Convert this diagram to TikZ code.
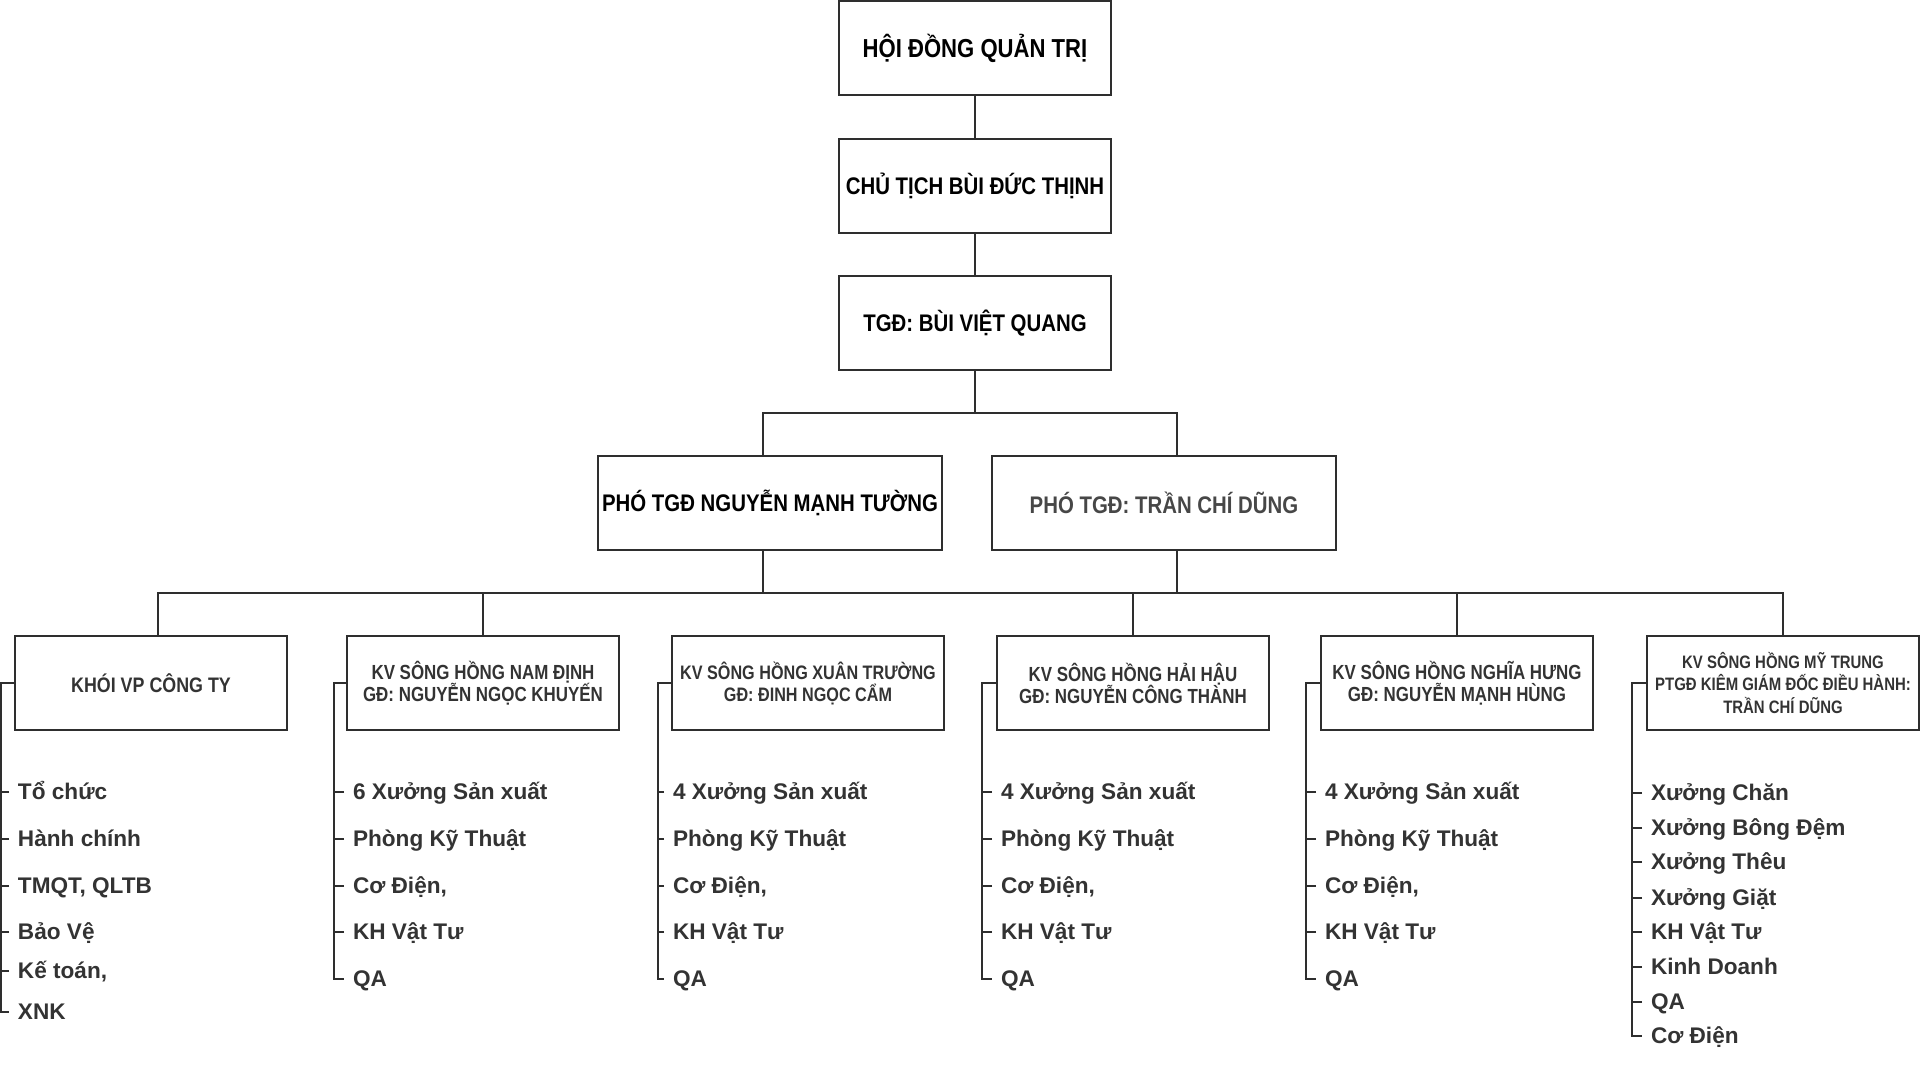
\documentclass[tikz,border=0pt]{standalone}
\usepackage{fontspec}
\setmainfont{Liberation Sans}
\newfontfamily\narrowsans[FakeStretch=0.85]{Liberation Sans}
\newfontfamily\narrowersans[FakeStretch=0.83]{Liberation Sans}
\definecolor{linegray}{HTML}{2E2E2E}
\definecolor{textgray}{HTML}{333333}

\begin{document}
\begin{tikzpicture}[x=0.5pt,y=-0.5pt,line width=1pt,draw=linegray,
    topbox/.style={draw=linegray,minimum width=136pt,minimum height=47pt,inner sep=0pt,align=center,
        font=\narrowsans\bfseries\fontsize{12}{14}\selectfont},
    phobox/.style={topbox,minimum width=172pt},
    kvbox/.style={draw=linegray,minimum width=136pt,minimum height=47pt,inner sep=0pt,align=center,
        text=textgray,font=\narrowersans\bfseries\fontsize{10.2}{11}\selectfont},
    item/.style={anchor=west,inner xsep=4pt,inner ysep=0pt,text height=7.9pt,text depth=0pt,
        text=textgray,font=\bfseries\fontsize{11.3}{13}\selectfont}]
    \useasboundingbox (0,0) rectangle (1920,1077);
    \node[topbox,font=\narrowsans\bfseries\fontsize{13}{15}\selectfont] (hdqt) at (975,48) {HỘI ĐỒNG QUẢN TRỊ};
    \node[topbox] (chutich) at (975,185.5) {CHỦ TỊCH BÙI ĐỨC THỊNH};
    \node[topbox] (tgd) at (975,323) {TGĐ: BÙI VIỆT QUANG};
    \node[phobox] (pho1) at (770,503) {PHÓ TGĐ NGUYỄN MẠNH TƯỜNG};
    \node[phobox,text=black!72] (pho2) at (1164,503) {PHÓ TGĐ: TRẦN CHÍ DŨNG};
    \node[kvbox,font=\narrowsans\bfseries\fontsize{10.5}{12}\selectfont] (khoi) at (151,683) {KHÓI VP CÔNG TY};
    \node[kvbox] (namdinh) at (483,683) {KV SÔNG HỒNG NAM ĐỊNH\\GĐ: NGUYỄN NGỌC KHUYẾN};
    \node[kvbox,font=\narrowersans\bfseries\fontsize{9.75}{11}\selectfont] (xuantruong) at (808,683) {KV SÔNG HỒNG XUÂN TRƯỜNG\\GĐ: ĐINH NGỌC CẨM};
    \node[kvbox] (haihau) at (1133,683) {KV SÔNG HỒNG HẢI HẬU\\GĐ: NGUYỄN CÔNG THÀNH};
    \node[kvbox] (nghiahung) at (1457,683) {KV SÔNG HỒNG NGHĨA HƯNG\\GĐ: NGUYỄN MẠNH HÙNG};
    \node[kvbox,font=\narrowersans\bfseries\fontsize{9}{11.2}\selectfont] (mytrung) at (1783,683)
        {KV SÔNG HỒNG MỸ TRUNG\\PTGĐ KIÊM GIÁM ĐỐC ĐIỀU HÀNH:\\TRẦN CHÍ DŨNG};

    \coordinate (upperbus) at (975,413);
    \coordinate (lowerbus) at (975,593);
    \draw (hdqt.south) -- (chutich.north);
    \draw (chutich.south) -- (tgd.north);
    \draw (tgd.south) -- (upperbus);
    \draw ([xshift=-3.5pt]pho1.north) |- (upperbus) -| ([xshift=6.5pt]pho2.north);
    \draw ([xshift=3.5pt]khoi.north) |- (lowerbus) -| (mytrung.north);
    \draw ([xshift=-3.5pt]pho1.south) -- ([xshift=-3.5pt]pho1.south |- lowerbus);
    \draw ([xshift=6.5pt]pho2.south) -- ([xshift=6.5pt]pho2.south |- lowerbus);
    \draw (namdinh.north) -- (namdinh.north |- lowerbus);
    \draw (haihau.north) -- (haihau.north |- lowerbus);
    \draw (nghiahung.north) -- (nghiahung.north |- lowerbus);

    \foreach \y/\t [count=\i] in {792/Tổ chức,839/Hành chính,886/{TMQT, QLTB},932/Bảo Vệ,971/{Kế toán,},1012/XNK}
        \node[item] (khoi-\i) at (9,\y) {\t};
    \foreach \y/\t [count=\i] in {792/6 Xưởng Sản xuất,839/Phòng Kỹ Thuật,886/{Cơ Điện,},932/KH Vật Tư,979/QA}
        \node[item] (namdinh-\i) at (344,\y) {\t};
    \foreach \y/\t [count=\i] in {792/4 Xưởng Sản xuất,839/Phòng Kỹ Thuật,886/{Cơ Điện,},932/KH Vật Tư,979/QA}
        \node[item] (xuantruong-\i) at (664,\y) {\t};
    \foreach \y/\t [count=\i] in {792/4 Xưởng Sản xuất,839/Phòng Kỹ Thuật,886/{Cơ Điện,},932/KH Vật Tư,979/QA}
        \node[item] (haihau-\i) at (992,\y) {\t};
    \foreach \y/\t [count=\i] in {792/4 Xưởng Sản xuất,839/Phòng Kỹ Thuật,886/{Cơ Điện,},932/KH Vật Tư,979/QA}
        \node[item] (nghiahung-\i) at (1316,\y) {\t};
    \foreach \y/\t [count=\i] in {793/Xưởng Chăn,828/Xưởng Bông Đệm,862/Xưởng Thêu,898/Xưởng Giặt,932/KH Vật Tư,967/Kinh Doanh,1002/QA,1036/Cơ Điện}
        \node[item] (mytrung-\i) at (1642,\y) {\t};

    \draw (khoi.west) -| ([xshift=-4pt]khoi-6.west) -- (khoi-6.west);
    \foreach \i in {1,...,5} \draw (khoi-\i.west) -- ++(-4pt,0);
    \draw (namdinh.west) -| ([xshift=-5pt]namdinh-5.west) -- (namdinh-5.west);
    \foreach \i in {1,...,4} \draw (namdinh-\i.west) -- ++(-5pt,0);
    \draw (xuantruong.west) -| ([xshift=-3pt]xuantruong-5.west) -- (xuantruong-5.west);
    \foreach \i in {1,...,4} \draw (xuantruong-\i.west) -- ++(-3pt,0);
    \draw (haihau.west) -| ([xshift=-5pt]haihau-5.west) -- (haihau-5.west);
    \foreach \i in {1,...,4} \draw (haihau-\i.west) -- ++(-5pt,0);
    \draw (nghiahung.west) -| ([xshift=-5pt]nghiahung-5.west) -- (nghiahung-5.west);
    \foreach \i in {1,...,4} \draw (nghiahung-\i.west) -- ++(-5pt,0);
    \draw (mytrung.west) -| ([xshift=-5pt]mytrung-8.west) -- (mytrung-8.west);
    \foreach \i in {1,...,7} \draw (mytrung-\i.west) -- ++(-5pt,0);
\end{tikzpicture}
\end{document}
